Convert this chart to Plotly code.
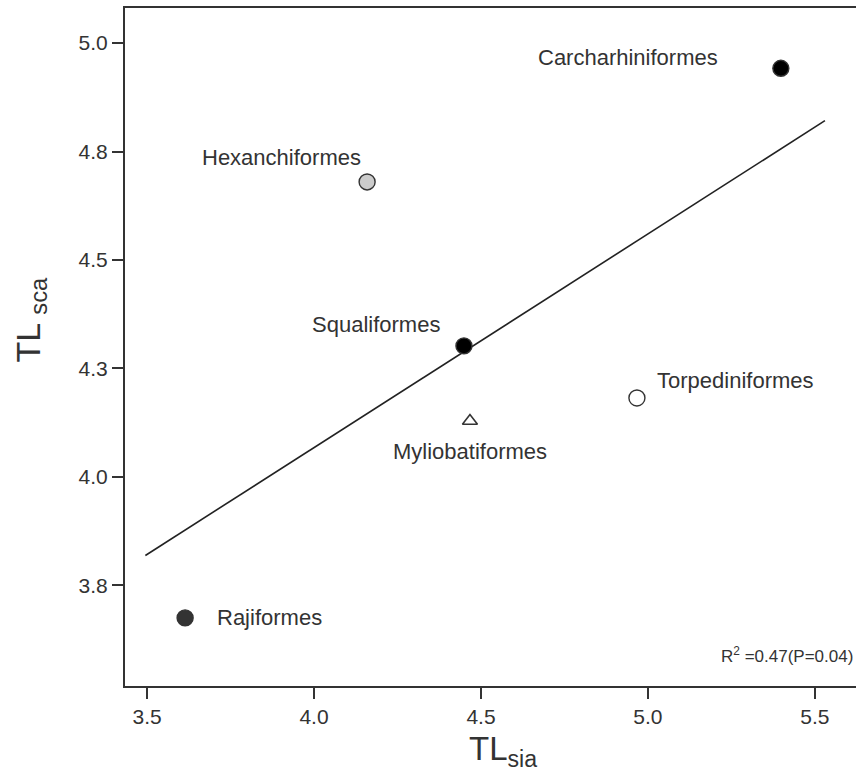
import plotly.graph_objects as go
import numpy as np

orders = ["Carcharhiniformes", "Hexanchiformes", "Squaliformes", "Myliobatiformes", "Torpediniformes", "Rajiformes"]
tl_sia = [5.398, 4.159, 4.449, 4.467, 4.967, 3.614]
tl_sca = [4.942, 4.680, 4.302, 4.129, 4.182, 3.675]
symbols = ["circle", "circle", "circle", "triangle-up-open", "circle", "circle"]
fills = ["#000000", "#cccccc", "#000000", "#333333", "#ffffff", "#333333"]
fit_x = [3.495, 5.53]
y_ticks = [3.75, 4.0, 4.25, 4.5, 4.75, 5.0]
y_labels = ["3.8", "4.0", "4.3", "4.5", "4.8", "5.0"]
x_ticks = [3.5, 4.0, 4.5, 5.0, 5.5]
x_labels = ["3.5", "4.0", "4.5", "5.0", "5.5"]

slope, intercept = np.polyfit(tl_sia, tl_sca, 1)
fit_y = [slope * v + intercept for v in fit_x]

FONT = "Liberation Sans, Arial, sans-serif"
TXT = "#333333"
fig = go.Figure()
fig.add_trace(go.Scatter(x=fit_x, y=fit_y, mode="lines",
                         line=dict(color="#222222", width=1.6), showlegend=False, hoverinfo="skip"))

# (xshift px, yshift px downward, xanchor)
text_offsets = {
    "Carcharhiniformes": (-61, -11, "right"),
    "Hexanchiformes": (-4, -24, "right"),
    "Squaliformes": (-22, -21, "right"),
    "Myliobatiformes": (0, 31, "center"),
    "Torpediniformes": (18, -17, "left"),
    "Rajiformes": (30, 0, "left"),
}

for i, name in enumerate(orders):
    sym = symbols[i]
    if sym.endswith("open"):
        marker = dict(symbol=sym, size=13, color="#333333", line=dict(width=1.6, color="#333333"))
    else:
        marker = dict(symbol=sym, size=16, color=fills[i], line=dict(width=1.4, color="#333333"))
    fig.add_trace(go.Scatter(x=[tl_sia[i]], y=[tl_sca[i]], mode="markers", marker=marker,
                             showlegend=False, name=name))
    dx, dy, xa = text_offsets[name]
    fig.add_annotation(x=tl_sia[i], y=tl_sca[i], text=name, showarrow=False,
                       xshift=dx, yshift=-dy, xanchor=xa, yanchor="middle",
                       font=dict(family=FONT, size=22, color=TXT))

fig.add_annotation(xref="paper", yref="paper", x=0.998, y=0.046, xanchor="right", yanchor="middle",
                   text="R<sup>2</sup> =0.47(P=0.04)", showarrow=False,
                   font=dict(family=FONT, size=17, color=TXT))

fig.add_annotation(xref="paper", yref="paper", x=0.517, y=-0.096, xanchor="center", yanchor="middle",
                   text="TL<sub>sia</sub>", showarrow=False,
                   font=dict(family=FONT, size=33, color=TXT))
fig.add_annotation(xref="paper", yref="paper", x=-0.129, y=0.54, xanchor="center", yanchor="middle",
                   text="TL <sub>sca</sub>", showarrow=False, textangle=-90,
                   font=dict(family=FONT, size=34, color=TXT))

fig.update_layout(
    width=856, height=775,
    margin=dict(l=125, r=0, t=8, b=89),
    paper_bgcolor="white", plot_bgcolor="white",
    font=dict(family=FONT, size=21, color=TXT),
    xaxis=dict(range=[3.434, 5.623], tickvals=x_ticks, ticktext=x_labels,
               showgrid=False, zeroline=False, showline=True, linecolor="#333333", linewidth=2,
               mirror=True, ticks="outside", ticklen=11, tickwidth=1.6, tickcolor="#333333",
               tickfont=dict(family=FONT, size=21, color=TXT)),
    yaxis=dict(range=[3.518, 5.081], tickvals=y_ticks, ticktext=y_labels,
               showgrid=False, zeroline=False, showline=True, linecolor="#333333", linewidth=2,
               ticks="outside", ticklen=11, tickwidth=1.6, tickcolor="#333333",
               tickfont=dict(family=FONT, size=21, color=TXT)),
)

fig.write_html("out.html")
